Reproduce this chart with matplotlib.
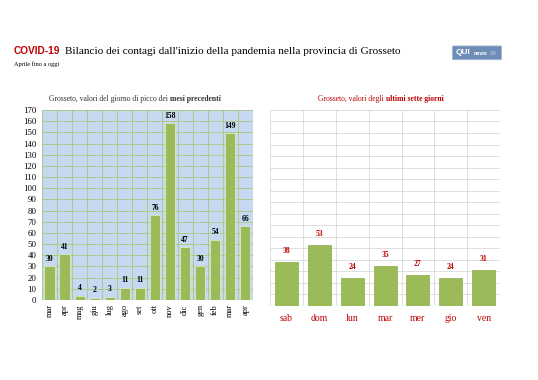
import matplotlib.pyplot as plt
import matplotlib
from matplotlib.patches import FancyBboxPatch
import numpy as np

matplotlib.rcParams['font.family'] = ['Liberation Serif', 'DejaVu Serif']

# Monthly peak values (left) and last seven days (right)
months = ['mar', 'apr', 'mag', 'giu', 'lug', 'ago', 'set', 'ott', 'nov',
          'dic', 'gen', 'feb', 'mar', 'apr']
month_peaks = [30, 41, 4, 2, 3, 11, 11, 76, 158, 47, 30, 54, 149, 66]

days = ['sab', 'dom', 'lun', 'mar', 'mer', 'gio', 'ven']
day_values = [38, 53, 24, 35, 27, 24, 31]

BAR = '#9bbb59'
DARKRED = '#c00000'
SANS = ['Liberation Sans', 'DejaVu Sans']

fig = plt.figure(figsize=(5.38, 3.80), dpi=100)
fig.patch.set_facecolor('white')

# Titles
fig.text(0.026, 0.857, 'COVID-19', family=SANS, fontsize=7.3,
         fontweight='bold', color=DARKRED, va='baseline')
fig.text(0.12, 0.857, 'Bilancio dei contagi dall\'inizio della pandemia nella provincia di Grosseto',
         fontsize=8.1, color='black', va='baseline')
fig.text(0.026, 0.826, 'Aprile fino a oggi', fontsize=4.5, color='black', va='baseline')

# Logo
logo = FancyBboxPatch((0.843, 0.845), 0.087, 0.032, boxstyle='round,pad=0.002',
                      transform=fig.transFigure, facecolor='#6d8db8',
                      edgecolor='#9fb3cf', linewidth=0.6)
fig.patches.append(logo)
fig.text(0.846, 0.861, 'QUI', family=SANS, fontsize=6,
         fontweight='bold', color='white', va='center')
fig.text(0.881, 0.859, 'news', family=SANS, fontsize=4,
         fontweight='bold', color='white', va='center')
fig.text(0.911, 0.858, 'GR', family=SANS, fontsize=3.3,
         color='#c4d2e6', va='center')

# Left chart: monthly peaks
ax1 = fig.add_axes([0.078, 0.2105, 0.392, 0.5])
x1 = np.arange(len(months))
ax1.set_facecolor('#c6d9f1')
ax1.bar(x1, month_peaks, width=0.68, color=BAR, edgecolor='#dde8c8',
        linewidth=0.6, zorder=3)
for xi, v in zip(x1, month_peaks):
    ax1.text(xi, v + 3, str(v), ha='center', va='bottom', fontsize=5.5,
             fontweight='bold', color='black', zorder=4)
ax1.set_xlim(-0.5, len(months) - 0.5)
ax1.set_ylim(0, 170)
ax1.set_yticks(range(0, 171, 10))
ax1.set_xticks(x1)
ax1.set_xticklabels(months, rotation=90, fontsize=6)
ax1.tick_params(axis='y', labelsize=6.3, length=0, pad=4)
ax1.tick_params(axis='x', length=0, pad=3)
ax1.set_xticks(np.arange(-0.5, len(months)), minor=True)
ax1.grid(True, axis='y', color='#a6c87a', linewidth=0.6, zorder=1)
ax1.grid(True, axis='x', which='minor', color='#a6c87a', linewidth=0.6, zorder=1)
ax1.grid(False, axis='x', which='major')
ax1.tick_params(which='minor', length=0)
for s in ax1.spines.values():
    s.set_visible(False)
fig.text(0.316, 0.734, 'Grosseto, valori del giorno di picco dei ', fontsize=5.5,
         ha='right', va='baseline', color='#333333')
fig.text(0.316, 0.734, 'mesi precedenti', fontsize=5.5, fontweight='bold',
         ha='left', va='baseline', color='#333333')

# Right chart: last seven days
ax2 = fig.add_axes([0.502, 0.1947, 0.4275, 0.516])
x2 = np.arange(len(days))
ax2.bar(x2, day_values, width=0.7, color=BAR, edgecolor='#8aab4c',
        linewidth=0.5, zorder=3)
for xi, v in zip(x2, day_values):
    ax2.text(xi, v + 6, str(v), ha='center', va='bottom', fontsize=5.5,
             fontweight='bold', color=DARKRED, zorder=4)
ax2.set_xlim(-0.5, len(days) - 0.5)
ax2.set_ylim(0, 170)
ax2.set_yticks(range(0, 171, 10))
ax2.set_yticklabels([])
ax2.set_xticks(x2)
ax2.set_xticklabels(days, fontsize=7, color=DARKRED)
ax2.tick_params(axis='both', length=0)
ax2.tick_params(axis='x', pad=6)
ax2.set_xticks(np.arange(-0.5, len(days)), minor=True)
ax2.grid(True, axis='y', color='#d9d9d9', linewidth=0.6, zorder=1)
ax2.grid(True, axis='x', which='minor', color='#d9d9d9', linewidth=0.6, zorder=1)
ax2.grid(False, axis='x', which='major')
ax2.tick_params(which='minor', length=0)
for s in ax2.spines.values():
    s.set_visible(False)
ax2.axvline(len(days) - 0.5, color='#d9d9d9', linewidth=0.6, zorder=1)
fig.text(0.717, 0.734, 'Grosseto, valori degli ', fontsize=5.5,
         ha='right', va='baseline', color=DARKRED)
fig.text(0.717, 0.734, 'ultimi sette giorni', fontsize=5.5, fontweight='bold',
         ha='left', va='baseline', color=DARKRED)

fig.savefig('out.png', dpi=100, facecolor='white')
